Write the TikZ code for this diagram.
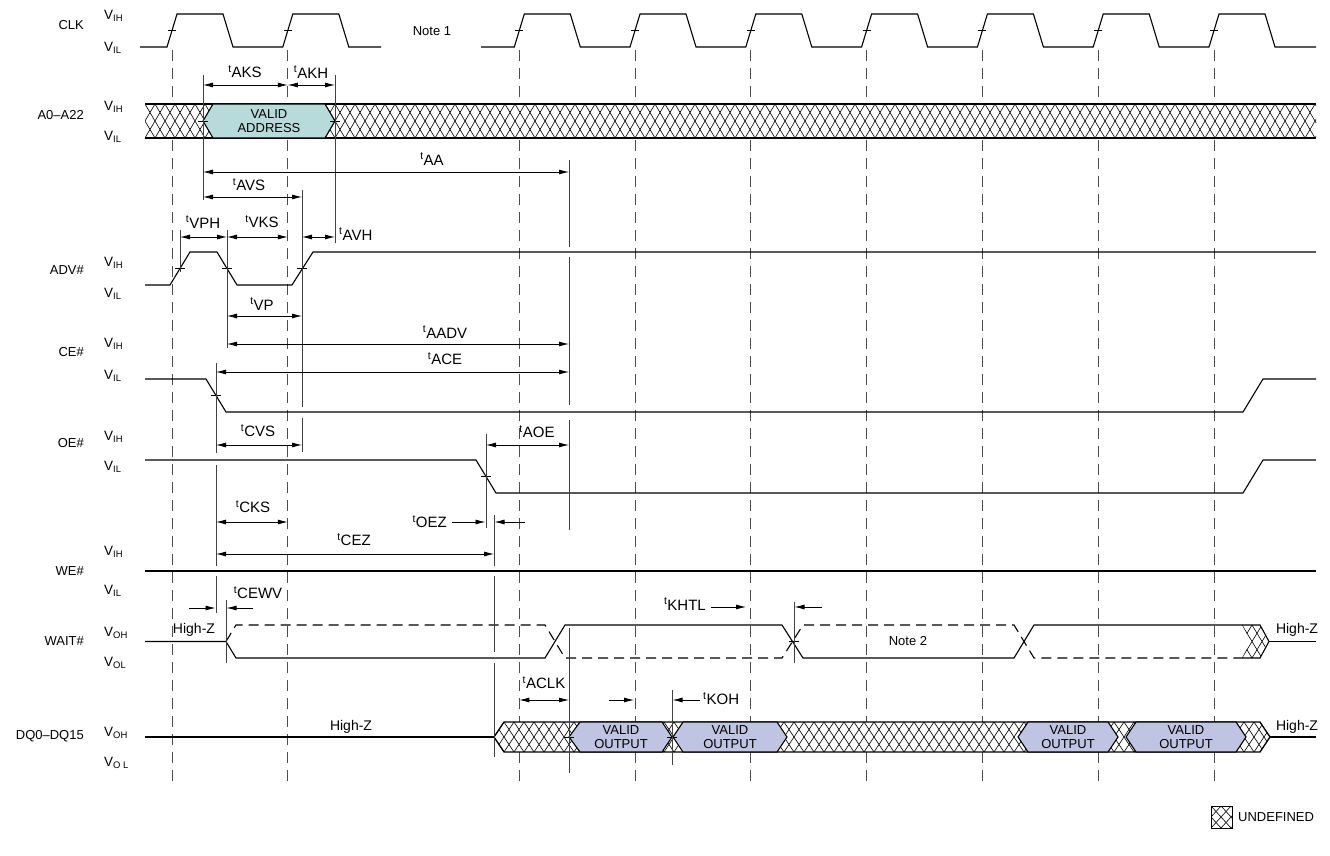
\documentclass[tikz,border=0pt]{standalone}
\usepackage{fontspec}
\setmainfont{Liberation Sans}
\usetikzlibrary{arrows.meta,positioning,calc}
\definecolor{addrfill}{HTML}{B7DADB}
\definecolor{outfill}{HTML}{BEC4E1}
\tikzset{>={Latex[length=10pt,width=5pt]}}
\tikzset{
  sig/.style={line width=1.1pt},
  sigdash/.style={line width=1.1pt,dash pattern=on 10pt off 6pt},
  clkmark/.style={line width=1pt,black!70,dash pattern=on 11pt off 7pt},
  refl/.style={line width=1pt,black!75},
  dim/.style={<->,line width=0.8pt},
  dimin/.style={->,line width=0.8pt},
  edgemark/.style={line width=0.9pt},
  lbl/.style={font=\fontsize{13}{15}\selectfont,inner sep=0pt},
  vlbl/.style={font=\fontsize{13.5}{15}\selectfont,inner sep=0pt,anchor=west},
  tlbl/.style={font=\fontsize{15}{17}\selectfont,inner sep=0pt},
  hz/.style={font=\fontsize{14}{16}\selectfont,inner sep=0pt},
  vtext/.style={font=\fontsize{13}{13.5}\selectfont,align=center,inner sep=0pt},
  hatchln/.style={line width=0.6pt},
  busline/.style={line width=1.3pt},
  validaddr/.style={fill=addrfill,line width=1.1pt},
  validout/.style={fill=outfill,line width=1.1pt}
}
\newcommand{\tm}[1]{\textsuperscript{t}#1}
\newcommand{\xhatch}[4]{%
  \pgfmathtruncatemacro{\hxb}{#1+10}%
  \foreach \hx in {#1,\hxb,...,#2}{%
    \draw[hatchln] (\hx,#3) -- ++(20,#4-#3) (\hx+20,#3) -- ++(-20,#4-#3);}}
\begin{document}
\begin{tikzpicture}[x=1pt,y=-1pt]
  \useasboundingbox (0,0) rectangle (1330,856);

  \foreach \e in {172,287.8,519.3,635,750.8,866.6,982.4,1098.2,1214}
    \draw[clkmark] (\e,50) -- (\e,782);

  \node[lbl,anchor=east] (clk) at (84,25) {CLK};
  \node[vlbl] (clkh) at (104,16) {V\textsubscript{IH}};
  \node[vlbl] (clkl) at (104,48) {V\textsubscript{IL}};
  \node[lbl,anchor=east] (addr) at (84,115) {A0–A22};
  \node[vlbl] (addrh) at (104,107) {V\textsubscript{IH}};
  \node[vlbl] (addrl) at (104,137) {V\textsubscript{IL}};
  \node[lbl,anchor=east] (adv) at (84,270) {ADV\#};
  \node[vlbl] (advh) at (104,263) {V\textsubscript{IH}};
  \node[vlbl] (advl) at (104,294) {V\textsubscript{IL}};
  \node[lbl,anchor=east] (ce) at (84,352) {CE\#};
  \node[vlbl] (ceh) at (104,344) {V\textsubscript{IH}};
  \node[vlbl] (cel) at (104,376) {V\textsubscript{IL}};
  \node[lbl,anchor=east] (oe) at (84,443) {OE\#};
  \node[vlbl] (oeh) at (104,437) {V\textsubscript{IH}};
  \node[vlbl] (oel) at (104,467) {V\textsubscript{IL}};
  \node[lbl,anchor=east] (we) at (84,571) {WE\#};
  \node[vlbl] (weh) at (104,552) {V\textsubscript{IH}};
  \node[vlbl] (wel) at (104,591) {V\textsubscript{IL}};
  \node[lbl,anchor=east] (wait) at (84,641) {WAIT\#};
  \node[vlbl] (waith) at (104,633) {V\textsubscript{OH}};
  \node[vlbl] (waitl) at (104,663) {V\textsubscript{OL}};
  \node[lbl,anchor=east] (dq) at (84,736) {DQ0–DQ15};
  \node[vlbl] (dqh) at (104,733) {V\textsubscript{OH}};
  \node[vlbl] (dql) at (104,763) {V\textsubscript{O L}};

  \draw[sig] (140,47) \foreach \e in {172,287.8}{ -- (\e-5,47) -- (\e+5,14) -- (\e+51,14) -- (\e+61,47)} -- (381,47);
  \draw[sig] (481,47) \foreach \e in {519.3,635,750.8,866.6,982.4,1098.2,1214}{ -- (\e-5,47) -- (\e+5,14) -- (\e+51,14) -- (\e+61,47)} -- (1316,47);
  \foreach \e in {172,287.8,519.3,635,750.8,866.6,982.4,1098.2,1214}
    \draw[edgemark] (\e-4,30.5) -- (\e+4,30.5);
  \node[lbl] (note1) at (432,31) {Note 1};

  \fill[white] (145,104) rectangle (1316,138);
  \begin{scope}
    \clip (145,104) rectangle (1316,138);
    \xhatch{125}{1316}{104}{138}
  \end{scope}
  \draw[busline] (145,104) -- (1316,104) (145,138) -- (1316,138);
  \draw[validaddr] (203,121) -- (213,104) -- (325,104) -- (335,121) -- (325,138) -- (213,138) -- cycle;
  \node[vtext] (vaddr) at (269,121) {VALID\\ADDRESS};
  \draw[edgemark] (198,121) -- (208,121) (330,121) -- (340,121);

  \draw[sig] (145,285) -- (170,285) -- (190,252) -- (217,252) -- (237,285) -- (292,285) -- (313,252) -- (1316,252);
  \draw[edgemark] (175,268.5) -- (185,268.5) (222,268.5) -- (232,268.5) (297,268.5) -- (307,268.5);

  \draw[sig] (145,379) -- (206,379) -- (226,412) -- (1243,412) -- (1263,379) -- (1316,379);
  \draw[edgemark] (211,395.5) -- (221,395.5);

  \draw[sig] (145,460) -- (476,460) -- (496,493) -- (1243,493) -- (1263,460) -- (1316,460);
  \draw[edgemark] (481,476.5) -- (491,476.5);

  \draw[sig] (145,571) -- (1316,571);

  \draw[sig] (145,641.5) -- (226,641.5) -- (236,658) -- (545,658) -- (565,625) -- (782,625) -- (803,658) -- (1014,658) -- (1034,625) -- (1242,625);
  \draw[sigdash] (226,641.5) -- (236,625) -- (545,625) -- (565,658) -- (782,658) -- (803,625) -- (1014,625) -- (1034,658) -- (1242,658);
  \draw[edgemark] (789,641.5) -- (799,641.5);
  \fill[white] (1242,625) -- (1260,625) -- (1269,641.5) -- (1260,658) -- (1242,658) -- (1251,641.5) -- cycle;
  \begin{scope}
    \clip (1242,625) -- (1260,625) -- (1269,641.5) -- (1260,658) -- (1242,658) -- (1251,641.5) -- cycle;
    \xhatch{1222}{1270}{625}{658}
  \end{scope}
  \draw[sig] (1242,625) -- (1260,625) -- (1269,641.5) -- (1260,658) -- (1242,658);
  \draw[sig] (1269,641.5) -- (1316,641.5);
  \node[hz] (hzw) at (194,630) {High-Z};
  \node[hz] (hzwr) at (1297,630) {High-Z};
  \node[lbl] (note2) at (908,641.5) {Note 2};

  \draw[sig] (145,737) -- (494,737);
  \fill[white] (494,737) -- (504,722) -- (1260,722) -- (1270,737) -- (1260,752) -- (504,752) -- cycle;
  \begin{scope}
    \clip (494,737) -- (504,722) -- (1260,722) -- (1270,737) -- (1260,752) -- (504,752) -- cycle;
    \xhatch{474}{1270}{722}{752}
  \end{scope}
  \draw[busline] (494,737) -- (504,722) -- (1260,722) -- (1270,737) -- (1260,752) -- (504,752) -- cycle;
  \draw[sig] (1270,737) -- (1316,737);
  \draw[validout] (569,737) -- (580,722) -- (662,722) -- (672,737) -- (662,752) -- (580,752) -- cycle;
  \draw[validout] (673,737) -- (683,722) -- (777,722) -- (787,737) -- (777,752) -- (683,752) -- cycle;
  \draw[validout] (1018,737) -- (1028,722) -- (1108,722) -- (1118,737) -- (1108,752) -- (1028,752) -- cycle;
  \draw[validout] (1126,737) -- (1136,722) -- (1236,722) -- (1246,737) -- (1236,752) -- (1136,752) -- cycle;
  \node[vtext] (vo1) at (621,737) {VALID\\OUTPUT};
  \node[vtext] (vo2) at (730,737) {VALID\\OUTPUT};
  \node[vtext] (vo3) at (1068,737) {VALID\\OUTPUT};
  \node[vtext] (vo4) at (1186,737) {VALID\\OUTPUT};
  \draw[edgemark] (564,737) -- (574,737) (667,737) -- (677,737);
  \node[hz] (hzd) at (351,727) {High-Z};
  \node[hz] (hzdr) at (1297,727) {High-Z};

  \draw[refl] (203,75) -- (203,200);
  \draw[refl] (335,75) -- (335,243);
  \draw[refl] (569,160) -- (569,247) (569,257) -- (569,405) (569,420) -- (569,530) (569,628) -- (569,773);
  \draw[refl] (180,230) -- (180,272);
  \draw[refl] (227,230) -- (227,348);
  \draw[refl] (302,190) -- (302,407) (302,418) -- (302,452);
  \draw[refl] (216,363) -- (216,453) (216,465) -- (216,566) (216,576) -- (216,613);
  \draw[refl] (486,434) -- (486,528);
  \draw[refl] (494,515) -- (494,566) (494,576) -- (494,652) (494,663) -- (494,757);
  \draw[refl] (226,600) -- (226,663);
  \draw[refl] (794,602) -- (794,663);
  \draw[refl] (672,690) -- (672,765);

  \draw[dim] (203,85) -- (287.8,85);
  \node[tlbl] (taks) at (245,72) {\tm{AKS}};
  \draw[dim] (287.8,85) -- (335,85);
  \node[tlbl] (takh) at (311,72) {\tm{AKH}};
  \draw[dim] (203,172) -- (569,172);
  \node[tlbl] (taa) at (432,159) {\tm{AA}};
  \draw[dim] (203,197) -- (302,197);
  \node[tlbl] (tavs) at (249,185) {\tm{AVS}};
  \draw[dim] (180,237) -- (227,237);
  \node[tlbl] (tvph) at (203,222) {\tm{VPH}};
  \draw[dim] (227,237) -- (287.8,237);
  \node[tlbl] (tvks) at (262,222) {\tm{VKS}};
  \draw[dim] (302,237) -- (335,237);
  \node[tlbl,anchor=west] (tavh) at (339,234) {\tm{AVH}};
  \draw[dim] (227,316) -- (302,316);
  \node[tlbl] (tvp) at (262,304) {\tm{VP}};
  \draw[dim] (227,344) -- (569,344);
  \node[tlbl] (taadv) at (445,332) {\tm{AADV}};
  \draw[dim] (216,372) -- (569,372);
  \node[tlbl] (tace) at (445,359) {\tm{ACE}};
  \draw[dim] (216,445) -- (302,445);
  \node[tlbl] (tcvs) at (258,431) {\tm{CVS}};
  \draw[dim] (486,445) -- (569,445);
  \node[tlbl] (taoe) at (537,432) {\tm{AOE}};
  \draw[dim] (216,522) -- (287.8,522);
  \node[tlbl] (tcks) at (253,507) {\tm{CKS}};
  \draw[dimin] (452,522) -- (485.5,522);
  \draw[dimin] (525,522) -- (494.5,522);
  \node[tlbl,anchor=east] (toez) at (447,522) {\tm{OEZ}};
  \draw[dim] (216,554) -- (494,554);
  \node[tlbl] (tcez) at (354,540) {\tm{CEZ}};
  \draw[dimin] (189,608) -- (215.5,608);
  \draw[dimin] (253,608) -- (226.5,608);
  \node[tlbl] (tcewv) at (258,593) {\tm{CEWV}};
  \draw[dimin] (711,607) -- (746,607);
  \draw[dimin] (822,607) -- (794.5,607);
  \node[tlbl,anchor=east] (tkhtl) at (706,604) {\tm{KHTL}};
  \draw[dim] (519.3,700) -- (569,700);
  \node[tlbl] (taclk) at (544,683) {\tm{ACLK}};
  \draw[dimin] (609,700) -- (634,700);
  \draw[dimin] (700,700) -- (672.5,700);
  \node[tlbl,anchor=west] (tkoh) at (703,699) {\tm{KOH}};

  \fill[white] (1211,806) rectangle (1232,828);
  \begin{scope}
    \clip (1211,806) rectangle (1232,828);
    \xhatch{1191}{1232}{806}{828}
  \end{scope}
  \draw[line width=0.8pt] (1211,806) rectangle (1232,828);
  \node[lbl,anchor=west] (undef) at (1238,817) {UNDEFINED};
\end{tikzpicture}
\end{document}
